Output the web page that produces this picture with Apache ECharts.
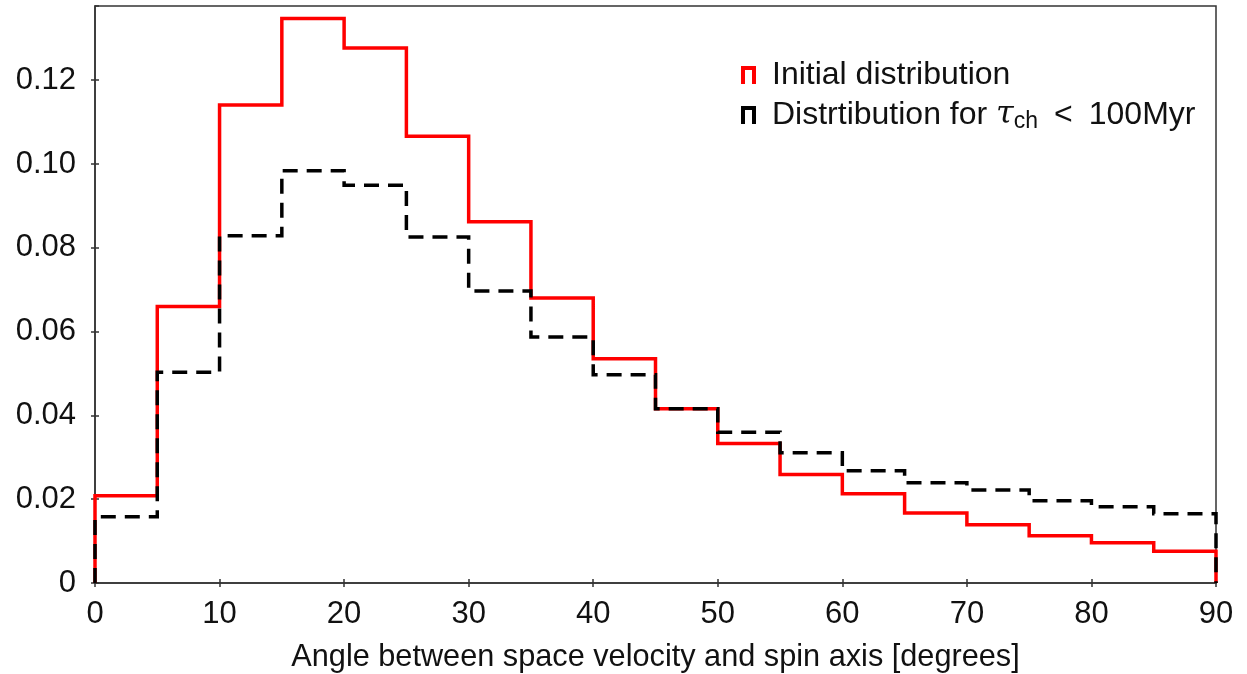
<!DOCTYPE html>
<html>
<head>
<meta charset="utf-8">
<script src="https://cdn.jsdelivr.net/npm/echarts@6/dist/echarts.min.js"></script>
<style>
html,body{margin:0;padding:0;background:#fff;}
#chart{width:1247px;height:674px;}
</style>
</head>
<body>
<div id="chart"></div>
<script>
// Bin edges (degrees), 5-degree bins
var binEdges = [0,5,10,15,20,25,30,35,40,45,50,55,60,65,70,75,80,85,90];
// Initial distribution (red)
var initialDist = [0.0208, 0.0660, 0.1141, 0.1347, 0.1277, 0.1066, 0.0862, 0.0680, 0.0535, 0.0416, 0.0333, 0.0259, 0.0213, 0.0167, 0.0139, 0.0113, 0.0096, 0.0076];
// Distribution for tau_ch < 100 Myr (black dashed)
var shortDist = [0.0158, 0.0503, 0.0829, 0.0984, 0.0949, 0.0826, 0.0697, 0.0587, 0.0497, 0.0416, 0.0360, 0.0311, 0.0268, 0.0239, 0.0222, 0.0196, 0.0182, 0.0165];
var seriesNames = ['Initial distribution', 'Distrtibution for \u03C4ch < 100Myr'];
var xTicks = [0,10,20,30,40,50,60,70,80,90];
var yTicks = [0,0.02,0.04,0.06,0.08,0.10,0.12];

function histOutline(edges, vals) {
  var pts = [[edges[0], 0]];
  for (var i = 0; i < vals.length; i++) {
    pts.push([edges[i], vals[i]]);
    pts.push([edges[i + 1], vals[i]]);
  }
  pts.push([edges[edges.length - 1], 0]);
  return pts;
}

var FONT = 'Liberation Sans';
var chart = echarts.init(document.getElementById('chart'), null, {renderer: 'canvas'});

var axisLineStyle = {show: true, lineStyle: {color: '#333', width: 1.5}};

var option = {
  animation: false,
  backgroundColor: '#fff',
  grid: {left: 95, right: 31, top: 6, bottom: 91, containLabel: false, outerBoundsMode: 'none',
         show: true, borderColor: '#333', borderWidth: 1.5, backgroundColor: 'transparent'},
  legend: {
    orient: 'vertical',
    left: 736,
    top: 54,
    itemGap: 8,
    itemWidth: 15,
    itemHeight: 18,
    data: [
      {name: seriesNames[0], icon: 'path://M0,0H15V18H11V4H4V18H0Z', itemStyle: {color: '#ff0000', borderWidth: 0}},
      {name: seriesNames[1], icon: 'path://M0,0H15V18H11V4H4V18H0Z', itemStyle: {color: '#000', borderWidth: 0}}
    ],
    formatter: function (name) {
      if (name === seriesNames[1]) {
        return '{t|Distrtibution for }{tau|\u03C4}{sub|ch}{t|\u2002<\u2002100Myr}';
      }
      return '{t|' + name + '}';
    },
    textStyle: {
      padding: [0, 0, 0, 11],
      rich: {
        t: {fontFamily: FONT, fontSize: 32, color: '#111'},
        tau: {fontFamily: 'DejaVu Serif', fontStyle: 'italic', fontSize: 32, color: '#111'},
        sub: {fontFamily: FONT, fontSize: 23, color: '#111', verticalAlign: 'bottom', padding: [14, 0, 0, 0]}
      }
    }
  },
  xAxis: [{
    type: 'value', min: 0, max: 90, interval: 10,
    axisLine: axisLineStyle, splitLine: {show: false},
    axisTick: {show: true, inside: false, length: 4, lineStyle: {color: '#333', width: 1.5}},
    axisLabel: {fontFamily: FONT, fontSize: 31, color: '#111', margin: 16,
      formatter: function (v) { return xTicks.indexOf(v) >= 0 ? String(v) : ''; }},
    name: 'Angle between space velocity and spin axis [degrees]',
    nameLocation: 'middle', nameGap: 59,
    nameTextStyle: {fontFamily: FONT, fontSize: 30.7, color: '#111'}
  }, {
    type: 'value', min: 0, max: 90, interval: 10, position: 'bottom',
    axisLine: {show: false}, splitLine: {show: false}, axisLabel: {show: false},
    axisTick: {show: true, inside: true, length: 4, lineStyle: {color: '#333', width: 1.5}}
  }],
  yAxis: [{
    type: 'value', min: 0, max: 0.1377, interval: 0.02,
    axisLine: axisLineStyle, splitLine: {show: false},
    axisTick: {show: true, inside: false, length: 4, lineStyle: {color: '#333', width: 1.5}},
    axisLabel: {fontFamily: FONT, fontSize: 31, color: '#111', margin: 19, showMaxLabel: false,
      formatter: function (v) {
        for (var i = 0; i < yTicks.length; i++) {
          if (Math.abs(v - yTicks[i]) < 1e-9) return v === 0 ? '0' : v.toFixed(2);
        }
        return '';
      }}
  }, {
    type: 'value', min: 0, max: 0.1377, interval: 0.02, position: 'left',
    axisLine: {show: false}, splitLine: {show: false}, axisLabel: {show: false, showMaxLabel: false},
    axisTick: {show: true, inside: true, length: 4, lineStyle: {color: '#333', width: 1.5}}
  }],
  series: [{
    name: seriesNames[0],
    type: 'line',
    data: histOutline(binEdges, initialDist),
    showSymbol: false,
    symbol: 'none',
    lineStyle: {color: '#ff0000', width: 3.5, cap: 'butt', join: 'miter'},
    itemStyle: {color: '#ff0000'},
    z: 2
  }, {
    name: seriesNames[1],
    type: 'line',
    data: histOutline(binEdges, shortDist),
    showSymbol: false,
    symbol: 'none',
    lineStyle: {color: '#000', width: 3.5, type: [15, 9], cap: 'butt', join: 'miter'},
    itemStyle: {color: '#000'},
    z: 3
  }]
};
chart.setOption(option);
</script>
</body>
</html>
